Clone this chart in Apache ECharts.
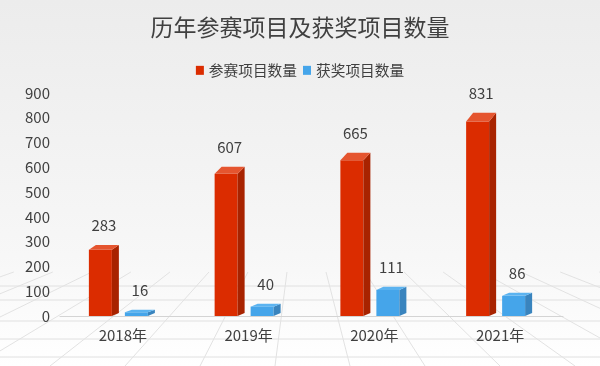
<!DOCTYPE html>
<html><head><meta charset="utf-8">
<script src="https://cdn.jsdelivr.net/npm/echarts@6/dist/echarts.min.js"></script>
<style>html,body{margin:0;padding:0;}#c{width:600px;height:366px;}</style>
</head><body><div id="c"></div>
<script>
const categories = ['2018年', '2019年', '2020年', '2021年'];
const entries = [283, 607, 665, 831];
const awards = [16, 40, 111, 86];
const yTicks = [0, 100, 200, 300, 400, 500, 600, 700, 800, 900];
const seriesNames = ['参赛项目数量', '获奖项目数量'];

const FONT = '"Noto Sans CJK SC", "Microsoft YaHei", sans-serif';
const chart = echarts.init(document.getElementById('c'));

function makeRender(offset, colors) {
  return function (params, api) {
    const cat = api.value(0), val = api.value(1);
    const p = api.coord([cat, val]);
    const p0 = api.coord([cat, 0]);
    const y0 = p0[1];
    const yf = y0 + (p[1] - y0) * 0.945;
    const x0 = p0[0] + offset, x1 = x0 + 23;
    const dx = 7, dyB = 3, dyT = 2.5 + val * 0.0075;
    return {
      type: 'group',
      children: [
        { type: 'rect', shape: { x: x0, y: yf, width: x1 - x0, height: y0 - yf }, style: { fill: colors[0] } },
        { type: 'polygon', shape: { points: [[x1, y0], [x1 + dx, y0 - dyB], [x1 + dx, yf - dyT], [x1, yf]] }, style: { fill: colors[1] } },
        { type: 'polygon', shape: { points: [[x0, yf], [x1, yf], [x1 + dx, yf - dyT], [x0 + dx, yf - dyT]] }, style: { fill: colors[2] } },
        { type: 'text', style: { text: String(val), x: (x0 + x1 + dx) / 2, y: yf - dyT - 19.5, textAlign: 'center', textVerticalAlign: 'middle', fill: '#404040', font: '15px ' + FONT } }
      ]
    };
  };
}

// decorative perspective floor
const floor = [];
const vx = 300, vy = 170;
[286, 300, 321, 339, 357].forEach(function (y) {
  floor.push({ type: 'line', shape: { x1: 0, y1: y, x2: 600, y2: y }, style: { stroke: '#e0e0e0', lineWidth: 1 }, z: -1 });
});
for (let bx = -700; bx <= 1300; bx += 75) {
  const t = (366 - 272) / (366 - vy);
  floor.push({ type: 'line', shape: { x1: bx, y1: 366, x2: bx + (vx - bx) * t, y2: 272 }, style: { stroke: '#e2e2e2', lineWidth: 1 }, z: -1 });
}

chart.setOption({
  backgroundColor: new echarts.graphic.LinearGradient(0, 0, 0, 1, [
    { offset: 0, color: '#ececec' },
    { offset: 0.7, color: '#f7f7f7' },
    { offset: 1, color: '#ffffff' }
  ]),
  graphic: floor,
  title: {
    text: '历年参赛项目及获奖项目数量', left: 'center', top: 11,
    textStyle: { fontFamily: FONT, fontSize: 23, fontWeight: 'normal', color: '#404040' }
  },
  legend: {
    top: 58, left: 'center', itemWidth: 8, itemHeight: 9, itemGap: 6,
    textStyle: { fontFamily: FONT, fontSize: 14.7, color: '#404040' },
    data: [
      { name: seriesNames[0], icon: 'rect', itemStyle: { color: '#DB2C00' } },
      { name: seriesNames[1], icon: 'rect', itemStyle: { color: '#45A5EA' } }
    ]
  },
  grid: { left: 60, right: 37, top: 93, bottom: 50 },
  xAxis: {
    type: 'category', data: categories,
    axisLine: { lineStyle: { color: '#d4d4d4' } }, axisTick: { show: false },
    axisLabel: { fontFamily: FONT, fontSize: 15, color: '#404040', margin: 12 }
  },
  yAxis: {
    type: 'value', min: yTicks[0], max: yTicks[yTicks.length - 1], interval: 100,
    splitLine: { show: false }, axisLine: { show: false }, axisTick: { show: false },
    axisLabel: { fontFamily: FONT, fontSize: 15, color: '#404040', margin: 10 }
  },
  series: [
    { name: seriesNames[0], type: 'custom', data: entries.map(function (v, i) { return [i, v]; }),
      encode: { x: 0, y: 1 }, itemStyle: { color: '#DB2C00' },
      renderItem: makeRender(-34, ['#DB2C00', '#A82300', '#E5552F']) },
    { name: seriesNames[1], type: 'custom', data: awards.map(function (v, i) { return [i, v]; }),
      encode: { x: 0, y: 1 }, itemStyle: { color: '#45A5EA' },
      renderItem: makeRender(2, ['#45A5EA', '#3984BE', '#5BB3F0']) }
  ]
});
</script></body></html>
